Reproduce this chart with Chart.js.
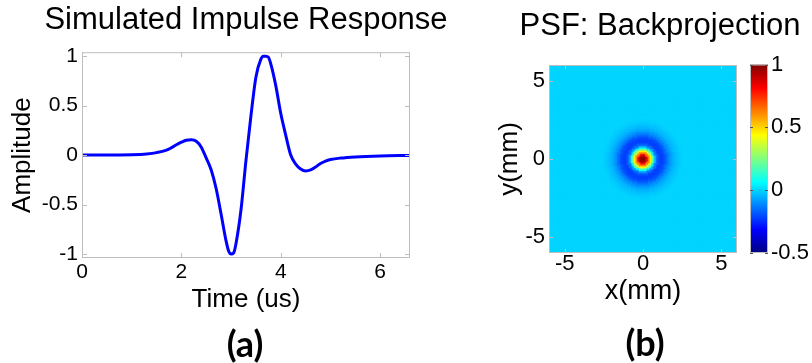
<!DOCTYPE html>
<html>
<head>
<meta charset="utf-8">
<script src="https://cdn.jsdelivr.net/npm/chart.js@4.4.1/dist/chart.umd.min.js"></script>
<style>
  html, body { margin: 0; padding: 0; background: #fff; overflow: hidden; }
  #wrap { position: relative; width: 812px; height: 363px; overflow: hidden; background: #fff; }
  #wrap canvas { position: absolute; top: 0; }
  .panel-label { position: absolute; width: 100px; text-align: center; font: bold 36px Lato, 'Open Sans', sans-serif; line-height: 1; color: #000; }
</style>
</head>
<body>
<div id="wrap">
  <canvas id="impulseChart" width="492" height="363" style="left:0"></canvas>
  <canvas id="psfChart" width="440" height="363" style="left:440px"></canvas>
  <canvas id="cbarChart" width="72" height="363" style="left:740px"></canvas>
  <div class="panel-label" style="left:195px;top:325px">(a)</div>
  <div class="panel-label" style="left:595px;top:324px">(b)</div>
</div>
<script>
// Panel (a): simulated impulse response
const timeUs = [0, 0.5, 1.0, 1.3, 1.5, 1.7, 1.8, 1.9, 2.0, 2.1, 2.2, 2.3, 2.4, 2.5, 2.6, 2.7, 2.8, 2.9, 2.95, 3.0,
    3.05, 3.1, 3.2, 3.3, 3.4, 3.5, 3.6, 3.65, 3.7, 3.75, 3.8, 3.9, 4.0, 4.1, 4.2, 4.3, 4.4, 4.5, 4.6, 4.7,
    4.8, 4.9, 5.0, 5.2, 5.5, 6.0, 6.6];
const amplitude = [0, 0.0, 0.004, 0.012, 0.025, 0.05, 0.075, 0.105, 0.13, 0.15, 0.155, 0.14, 0.08, -0.03, -0.15, -0.34, -0.6, -0.87, -0.97, -1.0,
    -0.99, -0.89, -0.55, -0.05, 0.4, 0.79, 0.97, 1.0, 1.0, 0.99, 0.92, 0.7, 0.42, 0.2, 0.0, -0.09, -0.14, -0.16, -0.15, -0.12,
    -0.085, -0.06, -0.045, -0.03, -0.018, -0.008, -0.003];
const timeTicks = [0, 2, 4, 6];
const ampTicks = [-1, -0.5, 0, 0.5, 1];

// Panel (b): point spread function, radial profile (mm -> value)
const psfRadius = [0, 0.1, 0.2, 0.3, 0.4, 0.5, 0.6, 0.7, 0.8, 0.9, 1.0, 1.1, 1.2, 1.3, 1.4, 1.5, 1.6, 1.7, 1.8, 1.9,
    2.0, 2.1, 2.2, 2.3, 2.4, 2.5, 2.6];
const psfValue = [1.0, 0.97, 0.90, 0.78, 0.62, 0.45, 0.27, 0.08, -0.06, -0.15, -0.20, -0.22, -0.22, -0.21, -0.19, -0.16, -0.13, -0.10, -0.08, -0.06,
    -0.045, -0.035, -0.025, -0.017, -0.01, -0.005, 0];
const psfBackground = 0;
const mmTicks = [-5, 0, 5];
const cbarTicks = [-0.5, 0, 0.5, 1];
const cbarMin = -0.5, cbarMax = 1;

Chart.defaults.font.family = "'Liberation Sans', Arial, sans-serif";
Chart.defaults.color = '#000';

// jet colormap
function jet(t) {
    const c = v => Math.round(255 * Math.min(1, Math.max(0, v)));
    return 'rgb(' + c(1.5 - Math.abs(4 * t - 3)) + ',' + c(1.5 - Math.abs(4 * t - 2)) + ',' + c(1.5 - Math.abs(4 * t - 1)) + ')';
}
const colorFor = v => jet((v - cbarMin) / (cbarMax - cbarMin));

// matlab style box with inward ticks
const boxTicks = {
    id: 'boxTicks',
    afterDatasetsDraw(chart, args, opts) {
        const { ctx, chartArea: a } = chart;
        ctx.save();
        ctx.strokeStyle = opts.color || '#bdbdbd';
        ctx.lineWidth = 1;
        ctx.strokeRect(a.left + 0.5, a.top + 0.5, a.width - 1, a.height - 1);
        const len = opts.length || 4;
        (opts.axes || []).forEach(id => {
            const s = chart.scales[id];
            ctx.strokeStyle = opts.tickColor || opts.color || '#bdbdbd';
            s.ticks.forEach(t => {
                const p = Math.round(s.getPixelForValue(t.value)) + 0.5;
                ctx.beginPath();
                if (s.isHorizontal()) {
                    ctx.moveTo(p, a.bottom); ctx.lineTo(p, a.bottom - len);
                    ctx.moveTo(p, a.top); ctx.lineTo(p, a.top + len);
                } else {
                    ctx.moveTo(a.left, p); ctx.lineTo(a.left + len, p);
                    ctx.moveTo(a.right, p); ctx.lineTo(a.right - len, p);
                }
                ctx.stroke();
            });
        });
        ctx.restore();
    }
};

const fixedTicks = list => scale => { scale.ticks = list.map(v => ({ value: v })); };
const noGrid = { display: false, drawTicks: false };
const spacer = size => ({
    position: 'right', display: true,
    grid: noGrid, border: { display: false }, ticks: { display: false },
    afterFit: s => { s.width = size; }
});

// (a) impulse response
new Chart(document.getElementById('impulseChart'), {
    type: 'line',
    data: {
        datasets: [{
            data: timeUs.map((t, i) => ({ x: t, y: amplitude[i] })),
            borderColor: '#0000ff',
            borderWidth: 3,
            pointRadius: 0,
            cubicInterpolationMode: 'monotone',
            fill: false
        }]
    },
    options: {
        responsive: false,
        animation: false,
        events: [],
        layout: { padding: { bottom: 48 } },
        scales: {
            x: {
                type: 'linear', min: 0, max: 6.6,
                afterBuildTicks: fixedTicks(timeTicks),
                grid: noGrid, border: { display: false },
                ticks: { font: { size: 21, lineHeight: 1 }, padding: 4, maxRotation: 0, callback: v => String(v) },
                title: { display: true, text: 'Time (us)', font: { size: 26 }, padding: 0 },
                afterFit: s => { s.height = 57; }
            },
            y: {
                min: -1.04, max: 1.04,
                afterBuildTicks: fixedTicks(ampTicks),
                grid: noGrid, border: { display: false },
                ticks: { font: { size: 21, lineHeight: 1 }, padding: 4, callback: v => String(v) },
                title: { display: true, text: 'Amplitude', font: { size: 26 }, padding: { top: 7.7, bottom: 0 } },
                afterFit: s => { s.width = 82; }
            },
            y2: spacer(82)
        },
        plugins: {
            legend: { display: false },
            tooltip: { enabled: false },
            title: { display: true, text: 'Simulated Impulse Response', font: { size: 31, weight: 'normal' }, padding: { top: 2, bottom: 13 } },
            boxTicks: { axes: ['x', 'y'], length: 5 }
        }
    },
    plugins: [boxTicks]
});

// (b) PSF image, one square per 0.1 mm cell
const cells = [];
const cellColors = [];
for (let i = 0; i <= 120; i++) {
    for (let j = 0; j <= 120; j++) {
        const x = -6 + i * 0.1, y = -6 + j * 0.1;
        const r = Math.hypot(x, y);
        let v = psfBackground;
        if (r <= psfRadius[psfRadius.length - 1]) {
            let k = 0;
            psfRadius.forEach((pr, n) => { if (Math.abs(pr - r) < Math.abs(psfRadius[k] - r)) k = n; });
            v = psfValue[k];
        }
        cells.push({ x: x, y: y });
        cellColors.push(colorFor(v));
    }
}

new Chart(document.getElementById('psfChart'), {
    type: 'scatter',
    data: {
        datasets: [{
            data: cells,
            backgroundColor: cellColors,
            borderWidth: 0,
            pointStyle: 'rect',
            pointRadius: 1.6,
            clip: 0
        }]
    },
    options: {
        responsive: false,
        animation: false,
        events: [],
        parsing: false,
        layout: { padding: { bottom: 54.8 } },
        scales: {
            x: {
                type: 'linear', min: -6, max: 6,
                afterBuildTicks: fixedTicks(mmTicks),
                grid: noGrid, border: { display: false },
                ticks: { font: { size: 22, lineHeight: 1 }, padding: 0, maxRotation: 0, callback: v => String(v) },
                title: { display: true, text: 'x(mm)', font: { size: 27 }, padding: 0 },
                afterFit: s => { s.height = 55.2; }
            },
            y: {
                type: 'linear', min: -6, max: 6,
                afterBuildTicks: fixedTicks(mmTicks),
                grid: noGrid, border: { display: false },
                ticks: { font: { size: 22, lineHeight: 1 }, padding: 4, callback: v => String(v) },
                title: { display: true, text: 'y(mm)', font: { size: 26 }, padding: { top: 54.4, bottom: 0 } },
                afterFit: s => { s.width = 109; }
            },
            y2: spacer(143)
        },
        plugins: {
            legend: { display: false },
            tooltip: { enabled: false },
            title: { display: true, text: 'PSF: Backprojection', font: { size: 31, weight: 'normal' }, padding: { top: 8, bottom: 19.8 } },
            boxTicks: { axes: ['x', 'y'], length: 4 }
        }
    },
    plugins: [boxTicks]
});

// colorbar
new Chart(document.getElementById('cbarChart'), {
    type: 'bar',
    data: {
        labels: [''],
        datasets: [{
            data: [[cbarMin, cbarMax]],
            barPercentage: 1,
            categoryPercentage: 1,
            borderWidth: 0,
            backgroundColor: ctx => {
                const chart = ctx.chart;
                if (!chart.chartArea) return null;
                const ys = chart.scales.y;
                const g = chart.ctx.createLinearGradient(0, ys.getPixelForValue(cbarMin), 0, ys.getPixelForValue(cbarMax));
                [0, 0.125, 0.375, 0.625, 0.875, 1].forEach(t => g.addColorStop(t, jet(t)));
                return g;
            }
        }]
    },
    options: {
        responsive: false,
        animation: false,
        events: [],
        layout: { padding: { left: 10, top: 64.5, bottom: 110 } },
        scales: {
            x: { display: false },
            y: {
                position: 'right', min: cbarMin, max: cbarMax,
                afterBuildTicks: fixedTicks(cbarTicks),
                grid: noGrid, border: { display: false },
                ticks: { font: { size: 22, lineHeight: 1 }, padding: 3, callback: v => String(v) },
                afterFit: s => { s.width = 44; }
            }
        },
        plugins: {
            legend: { display: false },
            tooltip: { enabled: false },
            boxTicks: { axes: ['y'], length: 3, tickColor: '#555' }
        }
    },
    plugins: [boxTicks]
});
</script>
</body>
</html>
